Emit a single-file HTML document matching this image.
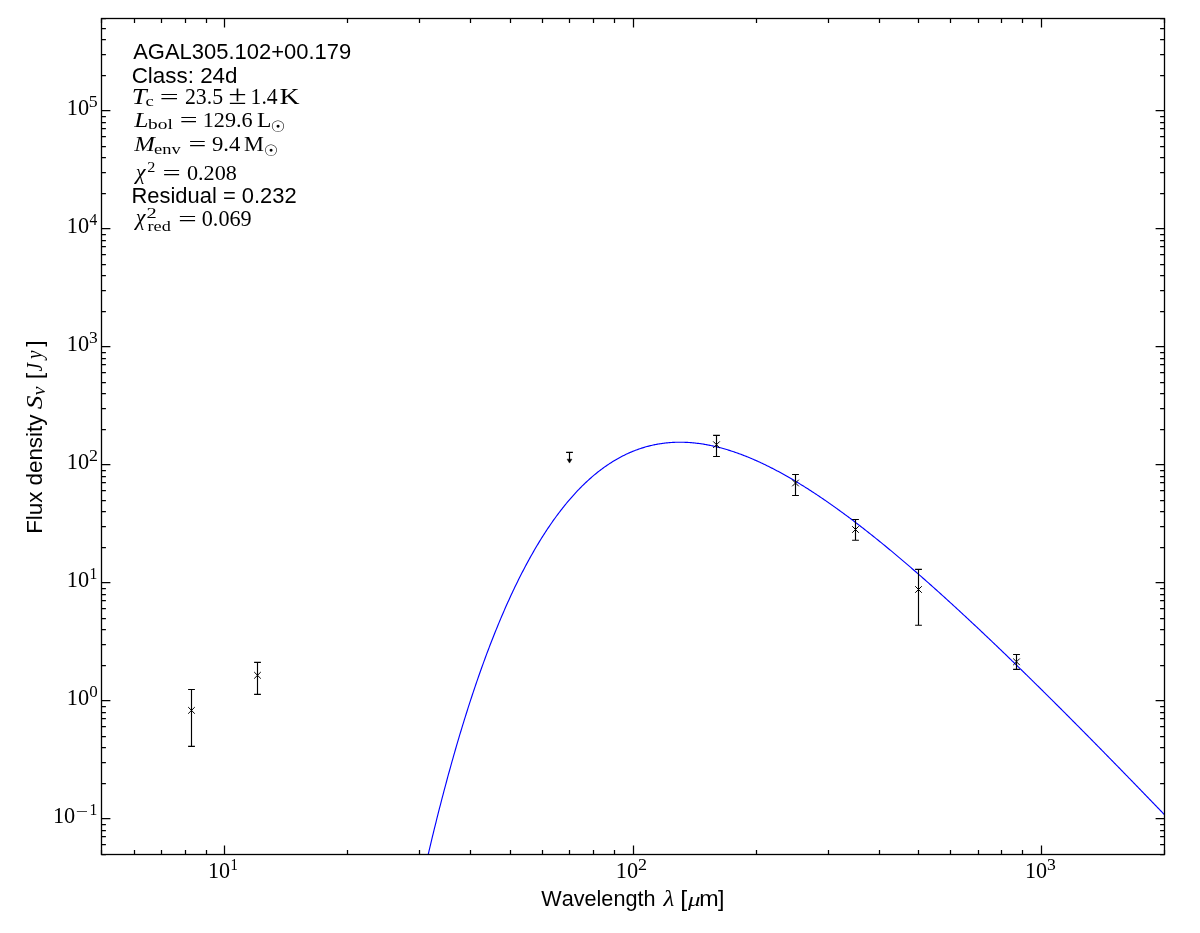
<!DOCTYPE html><html><head><meta charset="utf-8"><title>SED AGAL305.102+00.179</title><style>html,body{margin:0;padding:0;background:#fff;width:1200px;height:933px;overflow:hidden}svg{display:block;will-change:transform}text{font-kerning:none}</style></head><body><svg width="1200" height="933" viewBox="0 0 1200 933">
<rect width="1200" height="933" fill="#fff"/>
<defs><clipPath id="ax"><rect x="101.94" y="18.85" width="1062.51" height="835.33"/></clipPath></defs>
<polyline clip-path="url(#ax)" points="417.42,902.27 418.30,898.19 419.19,894.14 420.08,890.12 420.96,886.12 421.85,882.15 422.73,878.20 423.62,874.28 424.51,870.39 425.39,866.52 426.28,862.68 427.16,858.86 428.05,855.07 428.94,851.30 429.82,847.55 430.71,843.83 431.60,840.14 432.48,836.47 433.37,832.83 434.25,829.20 435.14,825.61 436.03,822.03 436.91,818.48 437.80,814.96 438.68,811.46 439.57,807.98 440.46,804.53 441.34,801.09 442.23,797.69 443.12,794.30 444.00,790.94 444.89,787.60 445.77,784.28 446.66,780.99 447.55,777.72 448.43,774.47 449.32,771.24 450.20,768.04 451.09,764.85 451.98,761.69 452.86,758.55 453.75,755.44 454.64,752.34 455.52,749.27 456.41,746.21 457.29,743.18 458.18,740.17 459.07,737.18 459.95,734.21 460.84,731.27 461.73,728.34 462.61,725.43 463.50,722.55 464.38,719.68 465.27,716.84 466.16,714.01 467.04,711.21 467.93,708.43 468.81,705.66 469.70,702.92 470.59,700.19 471.47,697.49 472.36,694.80 473.25,692.14 474.13,689.49 475.02,686.86 475.90,684.26 476.79,681.67 477.68,679.10 478.56,676.55 479.45,674.01 480.33,671.50 481.22,669.00 482.11,666.53 482.99,664.07 483.88,661.63 484.77,659.21 485.65,656.80 486.54,654.42 487.42,652.05 488.31,649.70 489.20,647.37 490.08,645.06 490.97,642.76 491.85,640.48 492.74,638.22 493.63,635.98 494.51,633.75 495.40,631.54 496.29,629.35 497.17,627.17 498.06,625.01 498.94,622.87 499.83,620.74 500.72,618.64 501.60,616.54 502.49,614.47 503.37,612.41 504.26,610.37 505.15,608.34 506.03,606.33 506.92,604.34 507.81,602.36 508.69,600.40 509.58,598.45 510.46,596.52 511.35,594.60 512.24,592.71 513.12,590.82 514.01,588.95 514.89,587.10 515.78,585.26 516.67,583.44 517.55,581.63 518.44,579.84 519.33,578.06 520.21,576.30 521.10,574.56 521.98,572.82 522.87,571.11 523.76,569.40 524.64,567.71 525.53,566.04 526.42,564.38 527.30,562.73 528.19,561.10 529.07,559.49 529.96,557.88 530.85,556.29 531.73,554.72 532.62,553.16 533.50,551.61 534.39,550.08 535.28,548.56 536.16,547.05 537.05,545.56 537.94,544.08 538.82,542.62 539.71,541.17 540.59,539.73 541.48,538.30 542.37,536.89 543.25,535.49 544.14,534.10 545.02,532.73 545.91,531.37 546.80,530.02 547.68,528.69 548.57,527.37 549.46,526.06 550.34,524.76 551.23,523.48 552.11,522.21 553.00,520.95 553.89,519.70 554.77,518.47 555.66,517.24 556.54,516.03 557.43,514.84 558.32,513.65 559.20,512.48 560.09,511.31 560.98,510.16 561.86,509.03 562.75,507.90 563.63,506.78 564.52,505.68 565.41,504.59 566.29,503.51 567.18,502.44 568.06,501.38 568.95,500.34 569.84,499.30 570.72,498.28 571.61,497.26 572.50,496.26 573.38,495.27 574.27,494.29 575.15,493.32 576.04,492.37 576.93,491.42 577.81,490.48 578.70,489.56 579.59,488.64 580.47,487.74 581.36,486.85 582.24,485.96 583.13,485.09 584.02,484.23 584.90,483.38 585.79,482.54 586.67,481.71 587.56,480.88 588.45,480.07 589.33,479.27 590.22,478.48 591.11,477.70 591.99,476.93 592.88,476.17 593.76,475.42 594.65,474.68 595.54,473.95 596.42,473.22 597.31,472.51 598.19,471.81 599.08,471.12 599.97,470.43 600.85,469.76 601.74,469.09 602.63,468.44 603.51,467.79 604.40,467.15 605.28,466.53 606.17,465.91 607.06,465.30 607.94,464.70 608.83,464.11 609.71,463.52 610.60,462.95 611.49,462.39 612.37,461.83 613.26,461.28 614.15,460.74 615.03,460.21 615.92,459.69 616.80,459.18 617.69,458.68 618.58,458.18 619.46,457.70 620.35,457.22 621.23,456.75 622.12,456.28 623.01,455.83 623.89,455.39 624.78,454.95 625.67,454.52 626.55,454.10 627.44,453.69 628.32,453.28 629.21,452.89 630.10,452.50 630.98,452.12 631.87,451.74 632.75,451.38 633.64,451.02 634.53,450.67 635.41,450.33 636.30,450.00 637.19,449.67 638.07,449.35 638.96,449.04 639.84,448.74 640.73,448.44 641.62,448.15 642.50,447.87 643.39,447.60 644.28,447.33 645.16,447.07 646.05,446.82 646.93,446.57 647.82,446.33 648.71,446.10 649.59,445.88 650.48,445.66 651.36,445.45 652.25,445.25 653.14,445.05 654.02,444.87 654.91,444.68 655.80,444.51 656.68,444.34 657.57,444.18 658.45,444.02 659.34,443.87 660.23,443.73 661.11,443.60 662.00,443.47 662.88,443.35 663.77,443.23 664.66,443.12 665.54,443.02 666.43,442.92 667.32,442.83 668.20,442.75 669.09,442.67 669.97,442.60 670.86,442.54 671.75,442.48 672.63,442.42 673.52,442.38 674.40,442.34 675.29,442.30 676.18,442.27 677.06,442.25 677.95,442.23 678.84,442.22 679.72,442.22 680.61,442.22 681.49,442.23 682.38,442.24 683.27,442.26 684.15,442.28 685.04,442.31 685.92,442.35 686.81,442.39 687.70,442.44 688.58,442.49 689.47,442.55 690.36,442.61 691.24,442.68 692.13,442.75 693.01,442.83 693.90,442.92 694.79,443.01 695.67,443.10 696.56,443.20 697.44,443.31 698.33,443.42 699.22,443.54 700.10,443.66 700.99,443.78 701.88,443.92 702.76,444.05 703.65,444.19 704.53,444.34 705.42,444.49 706.31,444.65 707.19,444.81 708.08,444.98 708.97,445.15 709.85,445.33 710.74,445.51 711.62,445.69 712.51,445.88 713.40,446.08 714.28,446.28 715.17,446.48 716.05,446.69 716.94,446.91 717.83,447.12 718.71,447.35 719.60,447.58 720.49,447.81 721.37,448.04 722.26,448.28 723.14,448.53 724.03,448.78 724.92,449.03 725.80,449.29 726.69,449.56 727.57,449.82 728.46,450.09 729.35,450.37 730.23,450.65 731.12,450.93 732.01,451.22 732.89,451.51 733.78,451.81 734.66,452.11 735.55,452.42 736.44,452.72 737.32,453.04 738.21,453.35 739.09,453.67 739.98,454.00 740.87,454.33 741.75,454.66 742.64,455.00 743.53,455.34 744.41,455.68 745.30,456.03 746.18,456.38 747.07,456.73 747.96,457.09 748.84,457.46 749.73,457.82 750.61,458.19 751.50,458.57 752.39,458.94 753.27,459.32 754.16,459.71 755.05,460.10 755.93,460.49 756.82,460.88 757.70,461.28 758.59,461.68 759.48,462.09 760.36,462.50 761.25,462.91 762.14,463.33 763.02,463.75 763.91,464.17 764.79,464.59 765.68,465.02 766.57,465.45 767.45,465.89 768.34,466.33 769.22,466.77 770.11,467.22 771.00,467.66 771.88,468.12 772.77,468.57 773.66,469.03 774.54,469.49 775.43,469.95 776.31,470.42 777.20,470.89 778.09,471.36 778.97,471.84 779.86,472.32 780.74,472.80 781.63,473.29 782.52,473.77 783.40,474.26 784.29,474.76 785.18,475.25 786.06,475.75 786.95,476.26 787.83,476.76 788.72,477.27 789.61,477.78 790.49,478.29 791.38,478.81 792.26,479.33 793.15,479.85 794.04,480.37 794.92,480.90 795.81,481.43 796.70,481.96 797.58,482.50 798.47,483.03 799.35,483.57 800.24,484.12 801.13,484.66 802.01,485.21 802.90,485.76 803.78,486.31 804.67,486.87 805.56,487.43 806.44,487.99 807.33,488.55 808.22,489.11 809.10,489.68 809.99,490.25 810.87,490.82 811.76,491.40 812.65,491.97 813.53,492.55 814.42,493.14 815.30,493.72 816.19,494.31 817.08,494.89 817.96,495.49 818.85,496.08 819.74,496.67 820.62,497.27 821.51,497.87 822.39,498.47 823.28,499.08 824.17,499.68 825.05,500.29 825.94,500.90 826.83,501.52 827.71,502.13 828.60,502.75 829.48,503.37 830.37,503.99 831.26,504.61 832.14,505.24 833.03,505.86 833.91,506.49 834.80,507.12 835.69,507.76 836.57,508.39 837.46,509.03 838.35,509.67 839.23,510.31 840.12,510.95 841.00,511.60 841.89,512.24 842.78,512.89 843.66,513.54 844.55,514.20 845.43,514.85 846.32,515.51 847.21,516.16 848.09,516.82 848.98,517.49 849.87,518.15 850.75,518.81 851.64,519.48 852.52,520.15 853.41,520.82 854.30,521.49 855.18,522.17 856.07,522.84 856.95,523.52 857.84,524.20 858.73,524.88 859.61,525.56 860.50,526.25 861.39,526.93 862.27,527.62 863.16,528.31 864.04,529.00 864.93,529.69 865.82,530.39 866.70,531.08 867.59,531.78 868.47,532.48 869.36,533.18 870.25,533.88 871.13,534.58 872.02,535.29 872.91,536.00 873.79,536.70 874.68,537.41 875.56,538.12 876.45,538.84 877.34,539.55 878.22,540.27 879.11,540.98 880.00,541.70 880.88,542.42 881.77,543.14 882.65,543.86 883.54,544.59 884.43,545.31 885.31,546.04 886.20,546.77 887.08,547.50 887.97,548.23 888.86,548.96 889.74,549.69 890.63,550.43 891.52,551.17 892.40,551.90 893.29,552.64 894.17,553.38 895.06,554.12 895.95,554.87 896.83,555.61 897.72,556.36 898.60,557.10 899.49,557.85 900.38,558.60 901.26,559.35 902.15,560.10 903.04,560.85 903.92,561.61 904.81,562.36 905.69,563.12 906.58,563.88 907.47,564.64 908.35,565.40 909.24,566.16 910.12,566.92 911.01,567.68 911.90,568.45 912.78,569.21 913.67,569.98 914.56,570.75 915.44,571.52 916.33,572.29 917.21,573.06 918.10,573.83 918.99,574.61 919.87,575.38 920.76,576.16 921.64,576.93 922.53,577.71 923.42,578.49 924.30,579.27 925.19,580.05 926.08,580.83 926.96,581.62 927.85,582.40 928.73,583.19 929.62,583.97 930.51,584.76 931.39,585.55 932.28,586.34 933.16,587.13 934.05,587.92 934.94,588.71 935.82,589.51 936.71,590.30 937.60,591.10 938.48,591.89 939.37,592.69 940.25,593.49 941.14,594.29 942.03,595.09 942.91,595.89 943.80,596.69 944.69,597.49 945.57,598.29 946.46,599.10 947.34,599.90 948.23,600.71 949.12,601.52 950.00,602.32 950.89,603.13 951.77,603.94 952.66,604.75 953.55,605.57 954.43,606.38 955.32,607.19 956.21,608.01 957.09,608.82 957.98,609.64 958.86,610.45 959.75,611.27 960.64,612.09 961.52,612.91 962.41,613.73 963.29,614.55 964.18,615.37 965.07,616.19 965.95,617.01 966.84,617.84 967.73,618.66 968.61,619.49 969.50,620.31 970.38,621.14 971.27,621.97 972.16,622.80 973.04,623.63 973.93,624.46 974.81,625.29 975.70,626.12 976.59,626.95 977.47,627.78 978.36,628.62 979.25,629.45 980.13,630.29 981.02,631.12 981.90,631.96 982.79,632.79 983.68,633.63 984.56,634.47 985.45,635.31 986.33,636.15 987.22,636.99 988.11,637.83 988.99,638.67 989.88,639.52 990.77,640.36 991.65,641.20 992.54,642.05 993.42,642.89 994.31,643.74 995.20,644.59 996.08,645.43 996.97,646.28 997.86,647.13 998.74,647.98 999.63,648.83 1000.51,649.68 1001.40,650.53 1002.29,651.38 1003.17,652.23 1004.06,653.09 1004.94,653.94 1005.83,654.79 1006.72,655.65 1007.60,656.50 1008.49,657.36 1009.38,658.22 1010.26,659.07 1011.15,659.93 1012.03,660.79 1012.92,661.65 1013.81,662.51 1014.69,663.37 1015.58,664.23 1016.46,665.09 1017.35,665.95 1018.24,666.81 1019.12,667.67 1020.01,668.54 1020.90,669.40 1021.78,670.26 1022.67,671.13 1023.55,671.99 1024.44,672.86 1025.33,673.73 1026.21,674.59 1027.10,675.46 1027.98,676.33 1028.87,677.20 1029.76,678.07 1030.64,678.94 1031.53,679.81 1032.42,680.68 1033.30,681.55 1034.19,682.42 1035.07,683.29 1035.96,684.16 1036.85,685.04 1037.73,685.91 1038.62,686.78 1039.50,687.66 1040.39,688.53 1041.28,689.41 1042.16,690.28 1043.05,691.16 1043.94,692.04 1044.82,692.91 1045.71,693.79 1046.59,694.67 1047.48,695.55 1048.37,696.43 1049.25,697.31 1050.14,698.19 1051.02,699.07 1051.91,699.95 1052.80,700.83 1053.68,701.71 1054.57,702.59 1055.46,703.48 1056.34,704.36 1057.23,705.24 1058.11,706.13 1059.00,707.01 1059.89,707.90 1060.77,708.78 1061.66,709.67 1062.55,710.55 1063.43,711.44 1064.32,712.33 1065.20,713.21 1066.09,714.10 1066.98,714.99 1067.86,715.88 1068.75,716.77 1069.63,717.66 1070.52,718.55 1071.41,719.44 1072.29,720.33 1073.18,721.22 1074.07,722.11 1074.95,723.00 1075.84,723.89 1076.72,724.78 1077.61,725.68 1078.50,726.57 1079.38,727.46 1080.27,728.36 1081.15,729.25 1082.04,730.15 1082.93,731.04 1083.81,731.94 1084.70,732.83 1085.59,733.73 1086.47,734.62 1087.36,735.52 1088.24,736.42 1089.13,737.32 1090.02,738.21 1090.90,739.11 1091.79,740.01 1092.67,740.91 1093.56,741.81 1094.45,742.71 1095.33,743.61 1096.22,744.51 1097.11,745.41 1097.99,746.31 1098.88,747.21 1099.76,748.11 1100.65,749.01 1101.54,749.91 1102.42,750.82 1103.31,751.72 1104.19,752.62 1105.08,753.53 1105.97,754.43 1106.85,755.33 1107.74,756.24 1108.63,757.14 1109.51,758.05 1110.40,758.95 1111.28,759.86 1112.17,760.76 1113.06,761.67 1113.94,762.58 1114.83,763.48 1115.71,764.39 1116.60,765.30 1117.49,766.20 1118.37,767.11 1119.26,768.02 1120.15,768.93 1121.03,769.84 1121.92,770.75 1122.80,771.66 1123.69,772.57 1124.58,773.48 1125.46,774.39 1126.35,775.30 1127.24,776.21 1128.12,777.12 1129.01,778.03 1129.89,778.94 1130.78,779.85 1131.67,780.76 1132.55,781.68 1133.44,782.59 1134.32,783.50 1135.21,784.42 1136.10,785.33 1136.98,786.24 1137.87,787.16 1138.76,788.07 1139.64,788.98 1140.53,789.90 1141.41,790.81 1142.30,791.73 1143.19,792.64 1144.07,793.56 1144.96,794.48 1145.84,795.39 1146.73,796.31 1147.62,797.23 1148.50,798.14 1149.39,799.06 1150.28,799.98 1151.16,800.89 1152.05,801.81 1152.93,802.73 1153.82,803.65 1154.71,804.57 1155.59,805.49 1156.48,806.40 1157.36,807.32 1158.25,808.24 1159.14,809.16 1160.02,810.08 1160.91,811.00 1161.80,811.92 1162.68,812.84 1163.57,813.76 1164.45,814.68" fill="none" stroke="#0000ff" stroke-width="1.15" stroke-linejoin="round"/>
<path d="M101.5,854.5h4.4M1164.5,854.5h-4.4M101.5,844.5h4.4M1164.5,844.5h-4.4M101.5,836.5h4.4M1164.5,836.5h-4.4M101.5,830.5h4.4M1164.5,830.5h-4.4M101.5,824.5h4.4M1164.5,824.5h-4.4M101.5,818.5h8.9M1164.5,818.5h-8.9M101.5,783.5h4.4M1164.5,783.5h-4.4M101.5,762.5h4.4M1164.5,762.5h-4.4M101.5,747.5h4.4M1164.5,747.5h-4.4M101.5,736.5h4.4M1164.5,736.5h-4.4M101.5,726.5h4.4M1164.5,726.5h-4.4M101.5,718.5h4.4M1164.5,718.5h-4.4M101.5,712.5h4.4M1164.5,712.5h-4.4M101.5,706.5h4.4M1164.5,706.5h-4.4M101.5,700.5h8.9M1164.5,700.5h-8.9M101.5,665.5h4.4M1164.5,665.5h-4.4M101.5,644.5h4.4M1164.5,644.5h-4.4M101.5,629.5h4.4M1164.5,629.5h-4.4M101.5,618.5h4.4M1164.5,618.5h-4.4M101.5,608.5h4.4M1164.5,608.5h-4.4M101.5,600.5h4.4M1164.5,600.5h-4.4M101.5,594.5h4.4M1164.5,594.5h-4.4M101.5,588.5h4.4M1164.5,588.5h-4.4M101.5,582.5h8.9M1164.5,582.5h-8.9M101.5,547.5h4.4M1164.5,547.5h-4.4M101.5,526.5h4.4M1164.5,526.5h-4.4M101.5,511.5h4.4M1164.5,511.5h-4.4M101.5,500.5h4.4M1164.5,500.5h-4.4M101.5,490.5h4.4M1164.5,490.5h-4.4M101.5,482.5h4.4M1164.5,482.5h-4.4M101.5,476.5h4.4M1164.5,476.5h-4.4M101.5,470.5h4.4M1164.5,470.5h-4.4M101.5,464.5h8.9M1164.5,464.5h-8.9M101.5,429.5h4.4M1164.5,429.5h-4.4M101.5,408.5h4.4M1164.5,408.5h-4.4M101.5,393.5h4.4M1164.5,393.5h-4.4M101.5,382.5h4.4M1164.5,382.5h-4.4M101.5,372.5h4.4M1164.5,372.5h-4.4M101.5,364.5h4.4M1164.5,364.5h-4.4M101.5,358.5h4.4M1164.5,358.5h-4.4M101.5,352.5h4.4M1164.5,352.5h-4.4M101.5,346.5h8.9M1164.5,346.5h-8.9M101.5,311.5h4.4M1164.5,311.5h-4.4M101.5,290.5h4.4M1164.5,290.5h-4.4M101.5,275.5h4.4M1164.5,275.5h-4.4M101.5,264.5h4.4M1164.5,264.5h-4.4M101.5,254.5h4.4M1164.5,254.5h-4.4M101.5,246.5h4.4M1164.5,246.5h-4.4M101.5,240.5h4.4M1164.5,240.5h-4.4M101.5,234.5h4.4M1164.5,234.5h-4.4M101.5,228.5h8.9M1164.5,228.5h-8.9M101.5,193.5h4.4M1164.5,193.5h-4.4M101.5,172.5h4.4M1164.5,172.5h-4.4M101.5,157.5h4.4M1164.5,157.5h-4.4M101.5,146.5h4.4M1164.5,146.5h-4.4M101.5,136.5h4.4M1164.5,136.5h-4.4M101.5,128.5h4.4M1164.5,128.5h-4.4M101.5,122.5h4.4M1164.5,122.5h-4.4M101.5,116.5h4.4M1164.5,116.5h-4.4M101.5,110.5h8.9M1164.5,110.5h-8.9M101.5,75.5h4.4M1164.5,75.5h-4.4M101.5,54.5h4.4M1164.5,54.5h-4.4M101.5,39.5h4.4M1164.5,39.5h-4.4M101.5,28.5h4.4M1164.5,28.5h-4.4M101.5,18.5h4.4M1164.5,18.5h-4.4M101.5,854.5v-4.4M101.5,18.5v4.4M134.5,854.5v-4.4M134.5,18.5v4.4M161.5,854.5v-4.4M161.5,18.5v4.4M185.5,854.5v-4.4M185.5,18.5v4.4M206.5,854.5v-4.4M206.5,18.5v4.4M224.5,854.5v-8.9M224.5,18.5v8.9M347.5,854.5v-4.4M347.5,18.5v4.4M419.5,854.5v-4.4M419.5,18.5v4.4M470.5,854.5v-4.4M470.5,18.5v4.4M510.5,854.5v-4.4M510.5,18.5v4.4M542.5,854.5v-4.4M542.5,18.5v4.4M569.5,854.5v-4.4M569.5,18.5v4.4M593.5,854.5v-4.4M593.5,18.5v4.4M614.5,854.5v-4.4M614.5,18.5v4.4M633.5,854.5v-8.9M633.5,18.5v8.9M756.5,854.5v-4.4M756.5,18.5v4.4M828.5,854.5v-4.4M828.5,18.5v4.4M879.5,854.5v-4.4M879.5,18.5v4.4M918.5,854.5v-4.4M918.5,18.5v4.4M950.5,854.5v-4.4M950.5,18.5v4.4M978.5,854.5v-4.4M978.5,18.5v4.4M1001.5,854.5v-4.4M1001.5,18.5v4.4M1022.5,854.5v-4.4M1022.5,18.5v4.4M1041.5,854.5v-8.9M1041.5,18.5v8.9M1164.5,854.5v-4.4M1164.5,18.5v4.4" stroke="#000" stroke-width="1.25" fill="none"/>
<rect x="101.5" y="18.5" width="1063.0" height="836.0" fill="none" stroke="#000" stroke-width="1.3"/>
<path d="M191.5,689.5V746.4M188.1,689.5h6.8M188.1,746.4h6.8M257.5,662.4V694.4M254.1,662.4h6.8M254.1,694.4h6.8M716.5,435.4V456.5M713.1,435.4h6.8M713.1,456.5h6.8M795.5,474.5V495.5M792.1,474.5h6.8M792.1,495.5h6.8M855.5,519.5V540.2M852.1,519.5h6.8M852.1,540.2h6.8M918.5,569.4V625.2M915.1,569.4h6.8M915.1,625.2h6.8M1016.5,654.5V669.3M1013.1,654.5h6.8M1013.1,669.3h6.8M569.5,452.4V460M566.1,452.4h6.8" stroke="#000" stroke-width="1.15" fill="none"/>
<path d="M188.2,707.1l6.6,6.6M188.2,713.6999999999999l6.6,-6.6M254.2,672.0l6.6,6.6M254.2,678.5999999999999l6.6,-6.6M713.2,441.4l6.6,6.6M713.2,448.0l6.6,-6.6M792.2,479.7l6.6,6.6M792.2,486.3l6.6,-6.6M852.2,526.2l6.6,6.6M852.2,532.8l6.6,-6.6M915.2,586.2l6.6,6.6M915.2,592.8l6.6,-6.6M1013.2,658.5l6.6,6.6M1013.2,665.0999999999999l6.6,-6.6" stroke="#000" stroke-width="1.0" fill="none"/>
<path d="M567.1,459.2L571.9,459.2L569.5,463.1Z" fill="#000" stroke="#000" stroke-width="0.5" stroke-linejoin="round"/>
<g fill="#000" style="font-kerning:none"><text transform="translate(133.21,58.70) scale(0.9904,1.0200)" font-size="22.20" style="font-family:&quot;Liberation Sans&quot;,sans-serif;font-style:normal">AGAL305.102+00.179</text><text transform="translate(131.66,82.70) scale(1.0105,1.0000)" font-size="22.20" style="font-family:&quot;Liberation Sans&quot;,sans-serif;font-style:normal">Class: 24d</text><text transform="translate(131.45,202.75) scale(0.9887,1.0000)" font-size="22.20" style="font-family:&quot;Liberation Sans&quot;,sans-serif;font-style:normal">Residual = 0.232</text><text transform="translate(131.85,104.00) scale(1.2000,1.0000)" font-size="22.30" style="font-family:&quot;Liberation Serif&quot;,serif;font-style:italic">T</text><text transform="translate(145.59,106.40) scale(1.2043,1.0000)" font-size="15.50" style="font-family:&quot;Liberation Serif&quot;,serif;font-style:normal">c</text><text transform="translate(159.73,104.00) scale(1.5238,1.0000)" font-size="22.00" style="font-family:&quot;Liberation Serif&quot;,serif;font-style:normal">=</text><text transform="translate(184.94,104.00) scale(0.9875,1.0000)" font-size="22.05" style="font-family:&quot;Liberation Serif&quot;,serif;font-style:normal">23.5</text><text transform="translate(228.54,104.00) scale(1.2178,1.0000)" font-size="27.00" style="font-family:&quot;Liberation Serif&quot;,serif;font-style:normal">±</text><text transform="translate(250.60,104.00) scale(0.9781,1.0000)" font-size="22.12" style="font-family:&quot;Liberation Serif&quot;,serif;font-style:normal">1.4</text><text transform="translate(279.40,104.00) scale(1.2474,1.0000)" font-size="22.30" style="font-family:&quot;Liberation Serif&quot;,serif;font-style:normal">K</text><text transform="translate(134.30,126.70) scale(1.1951,1.0000)" font-size="21.38" style="font-family:&quot;Liberation Serif&quot;,serif;font-style:italic">L</text><text transform="translate(148.00,129.30) scale(1.2698,1.0000)" font-size="15.28" style="font-family:&quot;Liberation Serif&quot;,serif;font-style:normal">bol</text><text transform="translate(179.73,126.70) scale(1.4359,1.0000)" font-size="22.00" style="font-family:&quot;Liberation Serif&quot;,serif;font-style:normal">=</text><text transform="translate(202.75,126.70) scale(1.0199,1.0000)" font-size="21.75" style="font-family:&quot;Liberation Serif&quot;,serif;font-style:normal">129.6</text><text transform="translate(257.02,126.70) scale(1.1021,1.0000)" font-size="21.38" style="font-family:&quot;Liberation Serif&quot;,serif;font-style:normal">L</text><text transform="translate(270.41,131.80) scale(1.0517,1.0000)" font-size="15.88" style="font-family:&quot;DejaVu Sans&quot;,serif;font-style:normal">☉</text><text transform="translate(134.29,150.70) scale(1.1553,1.0000)" font-size="21.38" style="font-family:&quot;Liberation Serif&quot;,serif;font-style:italic">M</text><text transform="translate(153.98,153.60) scale(1.1941,1.0000)" font-size="15.50" style="font-family:&quot;Liberation Serif&quot;,serif;font-style:normal">env</text><text transform="translate(188.43,150.70) scale(1.4359,1.0000)" font-size="22.00" style="font-family:&quot;Liberation Serif&quot;,serif;font-style:normal">=</text><text transform="translate(211.97,150.70) scale(1.0442,1.0000)" font-size="21.75" style="font-family:&quot;Liberation Serif&quot;,serif;font-style:normal">9.4</text><text transform="translate(244.06,150.70) scale(1.0468,1.0000)" font-size="21.38" style="font-family:&quot;Liberation Serif&quot;,serif;font-style:normal">M</text><text transform="translate(263.66,155.80) scale(1.0172,1.0000)" font-size="15.88" style="font-family:&quot;DejaVu Sans&quot;,serif;font-style:normal">☉</text><text transform="translate(135.78,178.91) scale(1.0287,1.0000)" font-size="21.58" style="font-family:&quot;Liberation Serif&quot;,serif;font-style:italic">χ</text><text transform="translate(147.29,171.50) scale(1.1301,1.0000)" font-size="14.35" style="font-family:&quot;Liberation Serif&quot;,serif;font-style:normal">2</text><text transform="translate(162.39,179.50) scale(1.4652,1.0000)" font-size="22.00" style="font-family:&quot;Liberation Serif&quot;,serif;font-style:normal">=</text><text transform="translate(186.96,179.50) scale(1.0312,1.0000)" font-size="21.50" style="font-family:&quot;Liberation Serif&quot;,serif;font-style:normal">0.208</text><text transform="translate(135.86,225.18) scale(0.9731,1.0000)" font-size="22.62" style="font-family:&quot;Liberation Serif&quot;,serif;font-style:italic">χ</text><text transform="translate(146.40,217.50) scale(1.3962,1.0000)" font-size="14.65" style="font-family:&quot;Liberation Serif&quot;,serif;font-style:normal">2</text><text transform="translate(147.53,231.00) scale(1.1827,1.0000)" font-size="15.42" style="font-family:&quot;Liberation Serif&quot;,serif;font-style:normal">red</text><text transform="translate(178.17,226.00) scale(1.4848,1.0000)" font-size="22.00" style="font-family:&quot;Liberation Serif&quot;,serif;font-style:normal">=</text><text transform="translate(201.75,226.00) scale(0.9844,1.0000)" font-size="22.56" style="font-family:&quot;Liberation Serif&quot;,serif;font-style:normal">0.069</text><text transform="translate(52.94,822.80) scale(1.0093,1.0000)" font-size="22.10" style="font-family:&quot;Liberation Serif&quot;,serif;font-style:normal">10</text><text transform="translate(75.71,817.10) scale(1.4142,1.0000)" font-size="15.50" style="font-family:&quot;Liberation Serif&quot;,serif;font-style:normal">−</text><text transform="translate(89.43,814.90) scale(0.9462,1.0000)" font-size="16.51" style="font-family:&quot;Liberation Serif&quot;,serif;font-style:normal">1</text><text transform="translate(66.84,704.80) scale(1.0093,1.0000)" font-size="22.10" style="font-family:&quot;Liberation Serif&quot;,serif;font-style:normal">10</text><text transform="translate(89.25,696.90) scale(1.0461,1.0000)" font-size="16.24" style="font-family:&quot;Liberation Serif&quot;,serif;font-style:normal">0</text><text transform="translate(66.84,586.80) scale(1.0093,1.0000)" font-size="22.10" style="font-family:&quot;Liberation Serif&quot;,serif;font-style:normal">10</text><text transform="translate(89.43,578.90) scale(0.9462,1.0000)" font-size="16.51" style="font-family:&quot;Liberation Serif&quot;,serif;font-style:normal">1</text><text transform="translate(66.84,468.80) scale(1.0093,1.0000)" font-size="22.10" style="font-family:&quot;Liberation Serif&quot;,serif;font-style:normal">10</text><text transform="translate(89.11,460.90) scale(1.1011,1.0000)" font-size="16.31" style="font-family:&quot;Liberation Serif&quot;,serif;font-style:normal">2</text><text transform="translate(66.84,350.80) scale(1.0093,1.0000)" font-size="22.10" style="font-family:&quot;Liberation Serif&quot;,serif;font-style:normal">10</text><text transform="translate(89.07,342.90) scale(1.0686,1.0000)" font-size="16.31" style="font-family:&quot;Liberation Serif&quot;,serif;font-style:normal">3</text><text transform="translate(66.84,232.80) scale(1.0093,1.0000)" font-size="22.10" style="font-family:&quot;Liberation Serif&quot;,serif;font-style:normal">10</text><text transform="translate(89.60,224.90) scale(0.9440,1.0000)" font-size="16.41" style="font-family:&quot;Liberation Serif&quot;,serif;font-style:normal">4</text><text transform="translate(66.84,114.80) scale(1.0093,1.0000)" font-size="22.10" style="font-family:&quot;Liberation Serif&quot;,serif;font-style:normal">10</text><text transform="translate(88.86,106.90) scale(1.0836,1.0000)" font-size="16.49" style="font-family:&quot;Liberation Serif&quot;,serif;font-style:normal">5</text><text transform="translate(207.96,877.75) scale(0.9889,1.0000)" font-size="22.33" style="font-family:&quot;Liberation Serif&quot;,serif;font-style:normal">10</text><text transform="translate(230.60,869.70) scale(0.9113,1.0000)" font-size="16.21" style="font-family:&quot;Liberation Serif&quot;,serif;font-style:normal">1</text><text transform="translate(615.84,877.75) scale(0.9992,1.0000)" font-size="22.33" style="font-family:&quot;Liberation Serif&quot;,serif;font-style:normal">10</text><text transform="translate(637.96,869.70) scale(1.1191,1.0000)" font-size="16.16" style="font-family:&quot;Liberation Serif&quot;,serif;font-style:normal">2</text><text transform="translate(1024.95,877.75) scale(0.9915,1.0000)" font-size="22.33" style="font-family:&quot;Liberation Serif&quot;,serif;font-style:normal">10</text><text transform="translate(1047.05,869.70) scale(1.0935,1.0000)" font-size="16.16" style="font-family:&quot;Liberation Serif&quot;,serif;font-style:normal">3</text><text transform="translate(541.20,905.75) scale(0.9759,1.0000)" font-size="22.20" style="font-family:&quot;Liberation Sans&quot;,sans-serif;font-style:normal">Wavelength</text><text transform="translate(663.51,905.75) scale(1.1141,1.0000)" font-size="22.51" style="font-family:&quot;Liberation Serif&quot;,serif;font-style:italic">λ</text><text transform="translate(680.31,905.75) scale(1.1333,1.0000)" font-size="22.20" style="font-family:&quot;Liberation Sans&quot;,sans-serif;font-style:normal">[</text><text transform="translate(687.92,905.75) scale(1.2836,1.0000)" font-size="19.40" style="font-family:&quot;Liberation Serif&quot;,serif;font-style:italic">μ</text><text transform="translate(699.26,905.75) scale(1.0479,1.0000)" font-size="22.20" style="font-family:&quot;Liberation Sans&quot;,sans-serif;font-style:normal">m</text><text transform="translate(718.12,905.75) scale(1.0427,1.0000)" font-size="22.20" style="font-family:&quot;Liberation Sans&quot;,sans-serif;font-style:normal">]</text><text transform="translate(42.00,533.83) rotate(-90) scale(1.0070,1.0000)" font-size="22.20" style="font-family:&quot;Liberation Sans&quot;,sans-serif;font-style:normal">Flux density</text><text transform="translate(42.00,409.32) rotate(-90) scale(1.1538,1.0000)" font-size="23.86" style="font-family:&quot;Liberation Serif&quot;,serif;font-style:italic">S</text><text transform="translate(45.40,395.17) rotate(-90) scale(1.0544,1.0000)" font-size="18.52" style="font-family:&quot;Liberation Serif&quot;,serif;font-style:italic">ν</text><text transform="translate(42.00,379.01) rotate(-90) scale(1.0200,1.0000)" font-size="22.20" style="font-family:&quot;Liberation Sans&quot;,sans-serif;font-style:normal">[</text><text transform="translate(42.00,371.49) rotate(-90) scale(0.7973,1.0000)" font-size="24.13" style="font-family:&quot;Liberation Serif&quot;,serif;font-style:italic">J</text><text transform="translate(42.00,358.90) rotate(-90) scale(0.7984,1.0000)" font-size="23.97" style="font-family:&quot;Liberation Serif&quot;,serif;font-style:italic">y</text><text transform="translate(42.00,346.68) rotate(-90) scale(1.0200,1.0000)" font-size="22.20" style="font-family:&quot;Liberation Sans&quot;,sans-serif;font-style:normal">]</text></g>
</svg></body></html>
